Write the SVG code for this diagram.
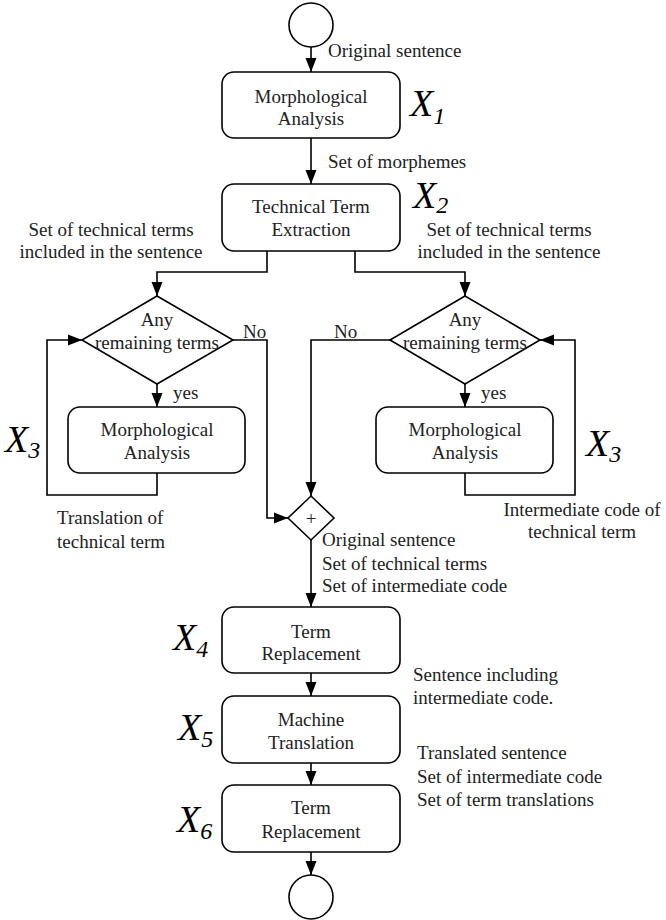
<svg xmlns="http://www.w3.org/2000/svg" width="666" height="920" viewBox="0 0 666 920" font-family="Liberation Serif">
  <style>
    .box { fill: #fff; stroke: #000; stroke-width: 1.6; }
    .ev { fill: #fff; stroke: #000; stroke-width: 1.6; }
    .t { font-size: 19px; fill: #222; }
    .c { text-anchor: middle; }
    .x { font-size: 38px; font-style: italic; fill: #000; }
    .sub { font-size: 24px; }
    .edge { fill: none; stroke: #000; stroke-width: 1.6; marker-end: url(#arrow); }
  </style>
  <defs>
    <marker id="arrow" markerUnits="userSpaceOnUse" markerWidth="14" markerHeight="14" viewBox="0 0 14 14" refX="14" refY="7" orient="auto">
      <path d="M0,1.5 L14,7 L0,12.5 Z" fill="#000"/>
    </marker>
  </defs>
  <rect width="666" height="920" fill="#fff"/>

  <!-- connectors -->
  <g id="connectors">
    <path class="edge" d="M311,47 V72"/>
    <path class="edge" d="M311,138 V184"/>
    <path class="edge" d="M267,251 V272 H157 V296"/>
    <path class="edge" d="M355,251 V272 H465 V296"/>
    <path class="edge" d="M157,384 V407"/>
    <path class="edge" d="M465,384 V407"/>
    <path class="edge" d="M157,473 V495 H47 V340 H82"/>
    <path class="edge" d="M465,473 V495 H575 V340 H540"/>
    <path class="edge" d="M233,340 H267 V518 H288"/>
    <path class="edge" d="M390,340 H311 V496"/>
    <path class="edge" d="M311,540 V607"/>
    <path class="edge" d="M311,673 V696"/>
    <path class="edge" d="M311,763 V785"/>
    <path class="edge" d="M311,852 V875"/>
  </g>

  <!-- edge labels -->
  <g id="labels" font-family="Liberation Serif">
    <text class="t" x="328" y="57">Original sentence</text>
    <text class="t" x="328" y="168">Set of morphemes</text>
    <text class="t c" x="111" y="236">Set of technical terms</text>
    <text class="t c" x="111" y="258">included in the sentence</text>
    <text class="t c" x="509" y="236">Set of technical terms</text>
    <text class="t c" x="509" y="258">included in the sentence</text>
    <text class="t" x="243" y="338">No</text>
    <text class="t" x="334" y="338">No</text>
    <text class="t" x="173" y="399">yes</text>
    <text class="t" x="481" y="399">yes</text>
    <text class="t" x="57" y="524">Translation of</text>
    <text class="t" x="57" y="548">technical term</text>
    <text class="t c" x="582" y="516">Intermediate code of</text>
    <text class="t c" x="582" y="538">technical term</text>
    <text class="t" x="322" y="546">Original sentence</text>
    <text class="t" x="322" y="570">Set of technical terms</text>
    <text class="t" x="322" y="592">Set of intermediate code</text>
    <text class="t" x="413" y="681">Sentence including</text>
    <text class="t" x="413" y="704">intermediate code.</text>
    <text class="t" x="417" y="759">Translated sentence</text>
    <text class="t" x="417" y="783">Set of intermediate code</text>
    <text class="t" x="417" y="806">Set of term translations</text>
  </g>

  <!-- step markers -->
  <g id="step-labels" font-family="Liberation Serif">
    <text class="x" x="410" y="116">X<tspan class="sub" dy="8">1</tspan></text>
    <text class="x" x="413" y="208">X<tspan class="sub" dy="5">2</tspan></text>
    <text class="x" x="5" y="452">X<tspan class="sub" dy="6">3</tspan></text>
    <text class="x" x="586" y="456">X<tspan class="sub" dy="6">3</tspan></text>
    <text class="x" x="173" y="650">X<tspan class="sub" dy="7">4</tspan></text>
    <text class="x" x="178" y="740">X<tspan class="sub" dy="7">5</tspan></text>
    <text class="x" x="177" y="832">X<tspan class="sub" dy="7">6</tspan></text>
  </g>

  <!-- nodes -->
  <g id="start">
    <circle class="ev" cx="311" cy="25" r="22"/>
  </g>
  <g id="morph-analysis" font-family="Liberation Serif">
    <rect class="box" x="222" y="72" width="178" height="66" rx="12"/>
    <text class="t c" x="311" y="103">Morphological</text>
    <text class="t c" x="311" y="125">Analysis</text>
  </g>
  <g id="term-extraction" font-family="Liberation Serif">
    <rect class="box" x="222" y="184" width="178" height="67" rx="12"/>
    <text class="t c" x="311" y="213">Technical Term</text>
    <text class="t c" x="311" y="236">Extraction</text>
  </g>
  <g id="decision-left" font-family="Liberation Serif">
    <polygon class="box" points="157,296 233,340 157,384 82,340"/>
    <text class="t c" x="157" y="326">Any</text>
    <text class="t c" x="157" y="349">remaining terms</text>
  </g>
  <g id="decision-right" font-family="Liberation Serif">
    <polygon class="box" points="465,296 540,340 465,384 390,340"/>
    <text class="t c" x="465" y="326">Any</text>
    <text class="t c" x="465" y="349">remaining terms</text>
  </g>
  <g id="morph-left" font-family="Liberation Serif">
    <rect class="box" x="68" y="407" width="177" height="66" rx="12"/>
    <text class="t c" x="157" y="436">Morphological</text>
    <text class="t c" x="157" y="459">Analysis</text>
  </g>
  <g id="morph-right" font-family="Liberation Serif">
    <rect class="box" x="376" y="407" width="177" height="66" rx="12"/>
    <text class="t c" x="465" y="436">Morphological</text>
    <text class="t c" x="465" y="459">Analysis</text>
  </g>
  <g id="merge" font-family="Liberation Serif">
    <polygon class="box" points="311,496 334,518 311,540 288,518"/>
    <text class="t c" x="311" y="525" font-size="22">+</text>
  </g>
  <g id="term-replacement-1" font-family="Liberation Serif">
    <rect class="box" x="222" y="607" width="178" height="66" rx="12"/>
    <text class="t c" x="311" y="638">Term</text>
    <text class="t c" x="311" y="660">Replacement</text>
  </g>
  <g id="machine-translation" font-family="Liberation Serif">
    <rect class="box" x="222" y="696" width="178" height="67" rx="12"/>
    <text class="t c" x="311" y="726">Machine</text>
    <text class="t c" x="311" y="749">Translation</text>
  </g>
  <g id="term-replacement-2" font-family="Liberation Serif">
    <rect class="box" x="222" y="785" width="178" height="67" rx="12"/>
    <text class="t c" x="311" y="814">Term</text>
    <text class="t c" x="311" y="838">Replacement</text>
  </g>
  <g id="end">
    <circle class="ev" cx="311" cy="897" r="22"/>
  </g>
</svg>
